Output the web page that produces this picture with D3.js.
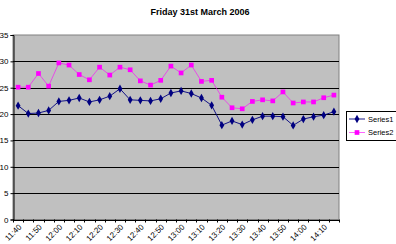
<!DOCTYPE html>
<html><head><meta charset="utf-8">
<script src="https://cdn.jsdelivr.net/npm/d3@7"></script>
<style>html,body{margin:0;padding:0;background:#fff;overflow:hidden}svg{display:block}</style>
</head><body>
<script>
const categories = ["11:40","11:45","11:50","11:55","12:00","12:05","12:10","12:15","12:20","12:25","12:30","12:35","12:40","12:45","12:50","12:55","13:00","13:05","13:10","13:15","13:20","13:25","13:30","13:35","13:40","13:45","13:50","13:55","14:00","14:05","14:10","14:15"];
const series1 = [21.6,20.1,20.2,20.7,22.4,22.6,23.05,22.3,22.7,23.4,24.8,22.7,22.6,22.5,22.9,24.0,24.4,23.9,23.05,21.65,17.9,18.7,18.0,18.9,19.6,19.6,19.5,17.85,19.05,19.5,19.8,20.45];
const series2 = [25.1,25.1,27.7,25.3,29.7,29.3,27.5,26.5,28.9,27.4,28.9,28.4,26.3,25.5,26.4,29.1,27.8,29.3,26.2,26.4,23.2,21.2,21.0,22.4,22.7,22.5,24.2,22.1,22.3,22.3,23.1,23.6];
const yTicks = [0,5,10,15,20,25,30,35];
const seriesNames = ["Series1","Series2"];
const title = "Friday 31st March 2006";

const W=396,H=244;
const svg=d3.select("body").append("svg").attr("width",W).attr("height",H).style("font-family","Arial, 'Liberation Sans', sans-serif");
const L=13,R=339,T=35,B=219.5;
const x=d3.scaleBand().domain(categories).range([L,R]);
const y=d3.scaleLinear().domain([0,35]).range([B,T]);

svg.append("text").attr("x",200).attr("y",15).attr("text-anchor","middle").attr("font-size",9).attr("font-weight","bold").text(title);

svg.append("rect").attr("x",L).attr("y",T).attr("width",R-L).attr("height",B-T).attr("fill","#c0c0c0").attr("stroke","#808080").attr("stroke-width",1);

// gridlines
svg.append("g").selectAll("line").data(yTicks.filter(d=>d>0&&d<35)).join("line")
  .attr("x1",L).attr("x2",R).attr("y1",d=>Math.round(y(d))+0.5).attr("y2",d=>Math.round(y(d))+0.5)
  .attr("stroke","#000").attr("stroke-width",1);

// y axis
const ya=svg.append("g").attr("transform",`translate(${L+0.5},0)`).call(d3.axisLeft(y).tickValues(yTicks).tickSize(3).tickPadding(2));
ya.selectAll("path,line").attr("stroke","#000");
ya.selectAll("text").attr("font-size",8).attr("fill","#000").attr("font-family","Arial, 'Liberation Sans', sans-serif");

// x axis
const xg=svg.append("g");
xg.append("line").attr("x1",L).attr("x2",R).attr("y1",Math.round(B)+0.5).attr("y2",Math.round(B)+0.5).attr("stroke","#000");
const bounds=categories.map(c=>x(c)).concat([R]);
xg.selectAll("line.t").data(bounds).join("line").attr("class","t")
  .attr("x1",d=>Math.round(d)+0.5).attr("x2",d=>Math.round(d)+0.5).attr("y1",B).attr("y2",B+3).attr("stroke","#000");
xg.selectAll("text").data(categories.filter((c,i)=>i%2===0)).join("text")
  .attr("transform",c=>`translate(${x(c)+x.bandwidth()/2+2},${B+6}) rotate(-45)`)
  .attr("text-anchor","end").attr("font-size",8).attr("dy","0.35em").text(c=>c);

const colors=["#000080","#ff00ff"];
const data=[series1,series2];
const line=d3.line().x((d,i)=>x(categories[i])+x.bandwidth()/2).y(d=>y(d));
data.forEach((s,k)=>{
  svg.append("path").datum(s).attr("d",line).attr("fill","none").attr("stroke",colors[k]).attr("stroke-width",1).attr("stroke-opacity",k===1?0.6:0.9);
  const sym=d3.symbol().type(k===0?d3.symbolDiamond:d3.symbolSquare).size(k===0?20:22);
  svg.append("g").selectAll("path").data(s).join("path")
    .attr("transform",(d,i)=>`translate(${x(categories[i])+x.bandwidth()/2},${y(d)})`)
    .attr("d",sym).attr("fill",colors[k]);
});

// legend
const lg=svg.append("g");
lg.append("rect").attr("x",346.5).attr("y",111.5).attr("width",60).attr("height",29).attr("fill","#fff").attr("stroke","#000");
seriesNames.forEach((n,k)=>{
  const yy=119+k*13.5;
  lg.append("line").attr("x1",349).attr("x2",365).attr("y1",yy).attr("y2",yy).attr("stroke",colors[k]).attr("stroke-opacity",k===1?0.6:0.9);
  lg.append("path").attr("transform",`translate(357,${yy})`).attr("d",d3.symbol().type(k===0?d3.symbolDiamond:d3.symbolSquare).size(k===0?20:22)).attr("fill",colors[k]);
  lg.append("text").attr("x",368).attr("y",yy).attr("dy","0.35em").attr("font-size",7.5).text(n);
});
</script>
</body></html>
